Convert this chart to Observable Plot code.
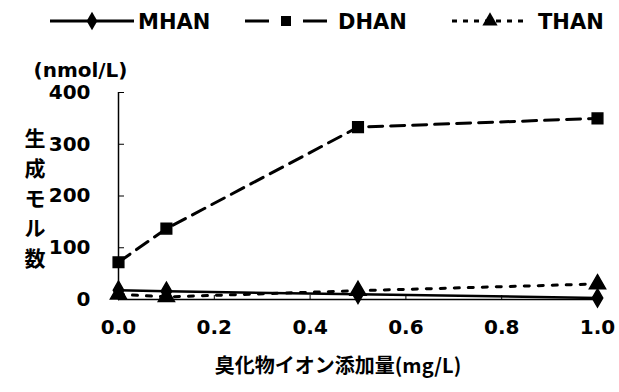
<!DOCTYPE html>
<html><head><meta charset="utf-8">
<script src="https://cdn.jsdelivr.net/npm/d3@7"></script>
<script src="https://cdn.jsdelivr.net/npm/@observablehq/plot@0.6"></script>
<style>
body{margin:0;background:#fff;}
#wrap{position:relative;width:619px;height:392px;overflow:hidden;}
#legend{position:absolute;left:0;top:0;width:619px;height:40px;}
</style>
</head><body><div id="wrap"><div id="legend"></div></div>
<script>
const bromide = [0, 0.1, 0.5, 1.0];
const seriesNames = ["MHAN", "DHAN", "THAN"];
const MHAN = [18, 16, 10, 3];
const DHAN = [72, 137, 333, 350];
const THAN = [10, 5, 17, 30];
const yTicks = [0, 100, 200, 300, 400];
const xTicks = [0, 0.2, 0.4, 0.6, 0.8, 1.0];
const yUnit = "(nmol/L)";
const yTitle = "生\n成\nモ\nル\n数";
const xTitle = "臭化物イオン添加量(mg/L)";

const styles = {
  MHAN: {symbol: "diamond", dash: null, r: 5.5},
  DHAN: {symbol: "square", dash: "14,8", r: 6},
  THAN: {symbol: "triangle", dash: "5,9", r: 6}
};
const valuesBy = {MHAN, DHAN, THAN};
const rows = seriesNames.flatMap(s => bromide.map((x, i) => ({series: s, x, y: valuesBy[s][i]})));

const latin = "'DejaVu Sans', sans-serif";
const cjk = "'Noto Sans CJK JP', sans-serif";

const marks = [
  Plot.ruleX([0], {stroke: "#000", strokeWidth: 1.5}),
  Plot.ruleY([0], {stroke: "#000", strokeWidth: 1.5}),
  Plot.axisY({ticks: yTicks, tickSize: 0, tickPadding: 28, label: null, fontSize: 20, fontWeight: "bold", fontFamily: latin}),
  Plot.axisY({ticks: yTicks, tickSize: 6, dx: 6, text: null, label: null}),
  Plot.axisX({ticks: xTicks, tickFormat: d => d.toFixed(1), tickSize: 0, tickPadding: 20, label: null, fontSize: 20, fontWeight: "bold", fontFamily: latin}),
  Plot.axisX({ticks: xTicks, tickSize: 4, dy: -4, text: null, label: null}),
];
for (const s of seriesNames) {
  const data = rows.filter(d => d.series === s);
  marks.push(Plot.line(data, {x: "x", y: "y", stroke: "#000", strokeWidth: s === "MHAN" ? 2.5 : 3, strokeDasharray: styles[s].dash}));
  marks.push(Plot.dot(data, {x: "x", y: "y", symbol: styles[s].symbol, r: styles[s].r, fill: "#000", stroke: "#000"}));
}
marks.push(
  Plot.text([yUnit], {frameAnchor: "top-left", dx: -85, dy: -22, lineAnchor: "middle", textAnchor: "start", fontSize: 20, fontWeight: "bold", fontFamily: latin}),
  Plot.text([yTitle], {frameAnchor: "left", dx: -94, lineHeight: 1.43, fontSize: 21, fontWeight: "bold", fontFamily: cjk}),
  Plot.text([xTitle], {frameAnchor: "bottom", dx: -20, dy: 73, fontSize: 20, fontWeight: "bold", fontFamily: cjk})
);

const chart = Plot.plot({
  width: 619, height: 392,
  marginLeft: 118, marginRight: 22, marginTop: 92, marginBottom: 93,
  x: {domain: [0, 1]},
  y: {domain: [0, 400]},
  style: {background: "#fff", color: "#000", fontFamily: latin},
  marks
});
document.getElementById("wrap").appendChild(chart);

// legend
const legend = d3.select("#legend").append("svg").attr("width", 619).attr("height", 40);
const legendItems = [
  {x: 50, len: 84, textX: 138, dash: null},
  {x: 245, len: 82, textX: 338, dash: "24,34,24"},
  {x: 452, len: 76, textX: 538, dash: "5,6"}
];
seriesNames.forEach((s, i) => {
  const it = legendItems[i];
  const g = legend.append("g").attr("transform", `translate(${it.x},21)`);
  g.append("line").attr("x1", 0).attr("x2", it.len).attr("y1", 0).attr("y2", 0)
    .attr("stroke", "#000").attr("stroke-width", 3)
    .attr("stroke-dasharray", it.dash);
  const sym = {diamond: d3.symbolDiamond, square: d3.symbolSquare, triangle: d3.symbolTriangle}[styles[s].symbol];
  g.append("path").attr("d", d3.symbol(sym, 100)()).attr("transform", `translate(${it.len / 2},0)`).attr("fill", "#000");
  g.append("text").attr("x", it.textX - it.x).attr("y", 0).attr("dy", "0.36em")
    .attr("font-family", latin).attr("font-weight", "bold").attr("font-size", 21).text(s);
});
</script>
</body></html>
